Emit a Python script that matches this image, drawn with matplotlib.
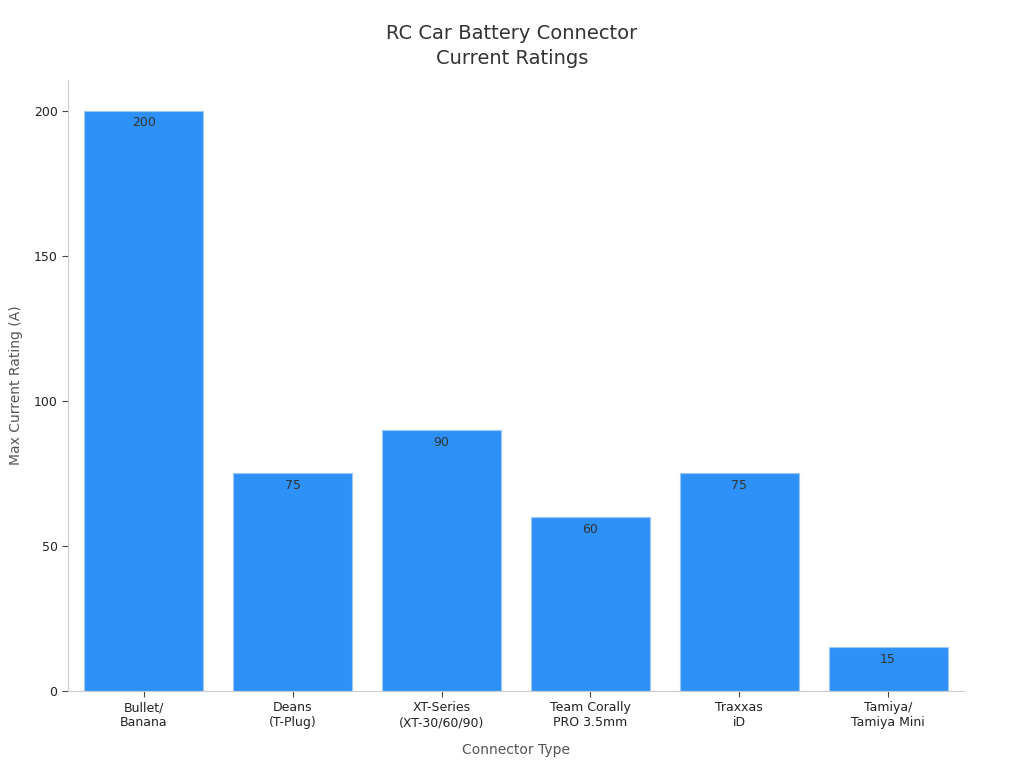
import matplotlib.pyplot as plt

connectors = ['Bullet/\nBanana', 'Deans\n(T-Plug)', 'XT-Series\n(XT-30/60/90)',
              'Team Corally\nPRO 3.5mm', 'Traxxas\niD', 'Tamiya/\nTamiya Mini']
ratings = [200, 75, 90, 60, 75, 15]

fig = plt.figure(figsize=(10.24, 7.68), dpi=100)
ax = fig.add_axes([0.0664, 0.1003, 0.8750, 0.7955])

bars = ax.bar(range(len(connectors)), ratings, width=0.8, color='#2E91F7',
              edgecolor='#9cc8f5', linewidth=0.8)
for b, v in zip(bars, ratings):
    ax.text(b.get_x() + b.get_width() / 2, v - 2, str(v), ha='center', va='top',
            fontsize=9, color='#333333')

ax.set_xlim(-0.51, 5.51)
ax.set_ylim(0, 210.5)
ax.set_yticks([0, 50, 100, 150, 200])
ax.set_xticks(range(len(connectors)))
ax.set_xticklabels(connectors, fontsize=9, color='#222222')
ax.tick_params(axis='y', labelsize=9, labelcolor='#222222', color='#444444', length=4)
ax.tick_params(axis='x', color='#444444', length=4)

for s in ['top', 'right']:
    ax.spines[s].set_visible(False)
for s in ['left', 'bottom']:
    ax.spines[s].set_color('#cccccc')

ax.set_xlabel('Connector Type', fontsize=10, color='#555555', labelpad=10)
ax.set_ylabel('Max Current Rating (A)', fontsize=10, color='#555555', labelpad=8)
fig.text(0.5, 0.94, 'RC Car Battery Connector\nCurrent Ratings', fontsize=14,
         color='#333333', ha='center', va='center', linespacing=1.35)

plt.savefig('out.png')
